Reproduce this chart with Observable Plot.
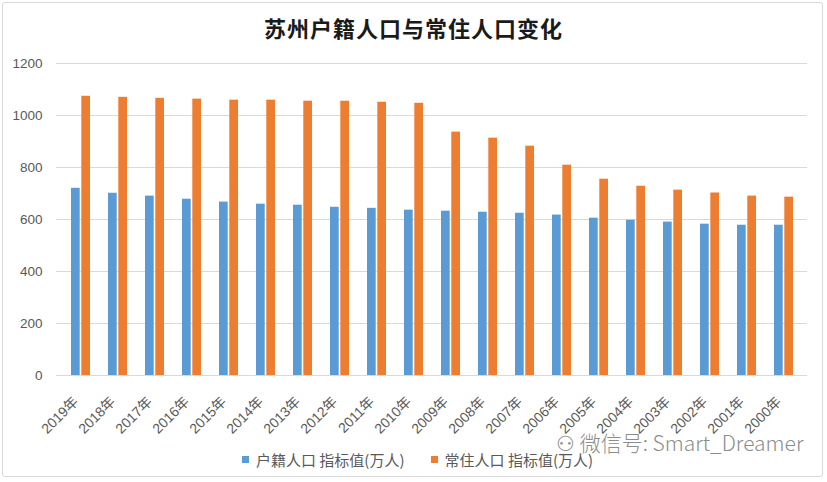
<!DOCTYPE html>
<html>
<head>
<meta charset="utf-8">
<script src="https://cdn.jsdelivr.net/npm/d3@7"></script>
<script src="https://cdn.jsdelivr.net/npm/@observablehq/plot@0.6"></script>
<style>
  html, body { margin: 0; padding: 0; background: #fff; }
  #wrap { position: relative; width: 827px; height: 482px; overflow: hidden; }
  #frame { position: absolute; left: 2px; top: 2px; width: 821px; height: 475px; border: 1px solid #d9d9d9; border-radius: 3px; box-sizing: border-box; pointer-events: none; }
  #title { position: absolute; left: 0; width: 827px; top: 11px; text-align: center; font-family: "Noto Sans CJK SC", sans-serif; font-weight: 700; font-size: 22px; color: #1a1a1a; letter-spacing: 1px; }
  #legend { position: absolute; top: 449px; left: 242px; font-family: "Noto Sans CJK SC", sans-serif; font-size: 15px; color: #595959; display: flex; align-items: center; white-space: nowrap; }
  .sw { display: inline-block; width: 7px; height: 7px; margin-right: 7px; }
  .item { display: flex; align-items: center; margin-right: 26px; }
  #wm { position: absolute; top: 430px; left: 556px; font-family: "Noto Sans CJK SC", sans-serif; font-size: 21px; font-weight: 300; color: #8c8c8c; white-space: nowrap; line-height: 24px; }
  svg { position: absolute; left: 0; top: 0; }
</style>
</head>
<body>
<div id="wrap">
  <div id="chart"></div>
  <div id="title">苏州户籍人口与常住人口变化</div>
  <div id="legend"></div>
  <div id="wm">⚇ 微信号: Smart_Dreamer</div>
  <div id="frame"></div>
</div>
<script>
const years = ["2019年","2018年","2017年","2016年","2015年","2014年","2013年","2012年","2011年","2010年","2009年","2008年","2007年","2006年","2005年","2004年","2003年","2002年","2001年","2000年"];
const huji = [720, 701, 690, 678, 667, 659, 655, 647, 643, 636, 632, 628, 624, 617, 605, 597, 590, 582, 578, 578];
const changzhu = [1074, 1070, 1066, 1063, 1059, 1059, 1055, 1055, 1051, 1047, 936, 913, 882, 809, 755, 728, 713, 702, 690, 686];
const seriesNames = ["户籍人口 指标值(万人)", "常住人口 指标值(万人)"];
const seriesColors = ["#5B9BD5", "#ED7D31"];
const yTicks = [0, 200, 400, 600, 800, 1000, 1200];

const rows = years.map((y, i) => ({year: y, huji: huji[i], changzhu: changzhu[i]}));

const chart = Plot.plot({
  width: 827,
  height: 482,
  marginTop: 63,
  marginBottom: 107,
  marginLeft: 56,
  marginRight: 20,
  style: {fontFamily: "'Liberation Sans', 'Noto Sans CJK SC', sans-serif", background: "transparent"},
  x: {domain: years, paddingInner: 0.49, paddingOuter: 0.245, label: null},
  y: {domain: [0, 1200], label: null},
  marks: [
    Plot.gridY(yTicks, {stroke: "#d9d9d9", strokeOpacity: 1}),
    Plot.barY(rows, {x: "year", y: "huji", fill: seriesColors[0], insetRight: 10.3}),
    Plot.barY(rows, {x: "year", y: "changzhu", fill: seriesColors[1], insetLeft: 10.3}),
    Plot.axisY({ticks: yTicks, tickFormat: d => String(d), tickSize: 0, tickPadding: 14, fontSize: 13.5, fill: "#595959", label: null}),
    Plot.axisX({tickSize: 0, tickRotate: -45, tickPadding: 19, dx: -5, dy: 5, fontSize: 14, fill: "#595959", label: null})
  ]
});
document.getElementById("chart").appendChild(chart);

const legend = document.getElementById("legend");
seriesNames.forEach((n, i) => {
  const it = document.createElement("div");
  it.className = "item";
  const sw = document.createElement("span");
  sw.className = "sw";
  sw.style.background = seriesColors[i];
  const t = document.createElement("span");
  t.textContent = n;
  it.appendChild(sw); it.appendChild(t);
  legend.appendChild(it);
});
</script>
</body>
</html>
